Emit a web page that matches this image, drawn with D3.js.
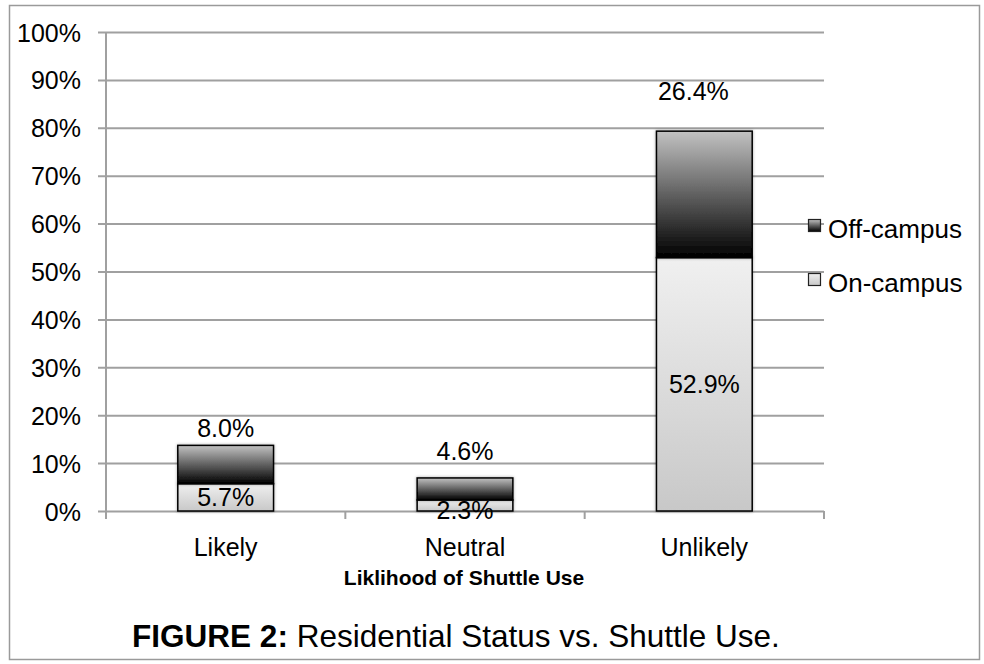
<!DOCTYPE html>
<html>
<head>
<meta charset="utf-8">
<script src="https://cdn.jsdelivr.net/npm/d3@7"></script>
<style>
  html, body { margin: 0; padding: 0; background: #fff; }
  svg { display: block; font-family: "Liberation Sans", Arial, Helvetica, sans-serif; }
</style>
</head>
<body>
<svg id="chart" width="984" height="664"></svg>
<script>
// ---- data ----
const categories = ["Likely", "Neutral", "Unlikely"];
const onCampus = [5.7, 2.3, 52.9];
const offCampus = [8.0, 4.6, 26.4];
const seriesNames = ["Off-campus", "On-campus"];
const yTickValues = [0, 10, 20, 30, 40, 50, 60, 70, 80, 90, 100];
const xAxisTitle = "Liklihood of Shuttle Use";
const figureLabel = "FIGURE 2:";
const figureText = " Residential Status vs. Shuttle Use.";
// manually placed labels (value units, as in the picture)
const offLabelAt = [17.3, 12.5, 87.7];
const offLabelDx = [0, 0, -11];
const onLabelAt = [2.85, 0.3, 26.45];

// ---- layout ----
const svg = d3.select("#chart");
const plot = { left: 106, right: 824, top: 32, bottom: 511 };
const gridColor = "#a0a0a0";
const font = 25;

const x = d3.scaleBand().domain(categories).range([plot.left, plot.right]).padding(0);
const y = d3.scaleLinear().domain([0, 100]).range([plot.bottom, plot.top]);
const barW = x.bandwidth() * 0.4;

// gradients
const defs = svg.append("defs");
const gOff = defs.append("linearGradient").attr("id", "gOff").attr("x1", 0).attr("y1", 0).attr("x2", 0).attr("y2", 1);
gOff.append("stop").attr("offset", "0%").attr("stop-color", "#c2c2c2");
gOff.append("stop").attr("offset", "100%").attr("stop-color", "#000");
const gOn = defs.append("linearGradient").attr("id", "gOn").attr("x1", 0).attr("y1", 0).attr("x2", 0).attr("y2", 1);
gOn.append("stop").attr("offset", "0%").attr("stop-color", "#f0f0f0");
gOn.append("stop").attr("offset", "100%").attr("stop-color", "#c8c8c8");
const shadow = defs.append("filter").attr("id", "shadow").attr("x", "-20%").attr("y", "-20%").attr("width", "140%").attr("height", "140%");
shadow.append("feDropShadow").attr("dx", 0).attr("dy", 0).attr("stdDeviation", 1.5).attr("flood-color", "#000").attr("flood-opacity", 0.35);

// outer border
svg.append("rect").attr("x", 9.5).attr("y", 5.5).attr("width", 970).attr("height", 654)
  .attr("fill", "#fff").attr("stroke", "#9a9a9a").attr("stroke-width", 1.5);

// gridlines + y tick labels
const yAxis = d3.axisLeft(y).tickValues(yTickValues).tickFormat(d => d + "%")
  .tickSize(-(plot.right - plot.left)).tickSizeOuter(0).tickPadding(25);
const gy = svg.append("g").attr("transform", `translate(${plot.left},0)`).call(yAxis);
gy.select(".domain").remove();
gy.selectAll(".tick line").attr("x1", -8).attr("stroke", gridColor).attr("stroke-width", 2);
gy.selectAll(".tick text").attr("font-size", font).attr("fill", "#000")
  .attr("font-family", '"Liberation Sans", Arial, sans-serif').attr("dy", "0.36em");

// vertical axis line
svg.append("line").attr("x1", plot.left).attr("x2", plot.left)
  .attr("y1", y(100)).attr("y2", y(0) + 8)
  .attr("stroke", gridColor).attr("stroke-width", 2);

// x axis tick marks at category boundaries
const bounds = categories.map(c => x(c)).concat([plot.right]);
svg.append("g").selectAll("line").data(bounds).join("line")
  .attr("x1", d => d).attr("x2", d => d)
  .attr("y1", y(0)).attr("y2", y(0) + 8)
  .attr("stroke", gridColor).attr("stroke-width", 2);

// category labels
svg.append("g").selectAll("text").data(categories).join("text")
  .attr("x", d => x(d) + x.bandwidth() / 2).attr("y", 556)
  .attr("text-anchor", "middle").attr("font-size", font).text(d => d);

// stacked bars
const rows = categories.map((c, i) => ({ cat: c, on: onCampus[i], off: offCampus[i] }));
const stack = d3.stack().keys(["on", "off"])(rows);
const fills = { on: "url(#gOn)", off: "url(#gOff)" };

const barsG = svg.append("g");
stack.forEach(layer => {
  barsG.selectAll(null).data(layer).join("rect")
    .attr("x", d => x(d.data.cat) + (x.bandwidth() - barW) / 2)
    .attr("y", d => y(d[1]))
    .attr("width", barW)
    .attr("height", d => y(d[0]) - y(d[1]))
    .attr("fill", fills[layer.key])
    .attr("stroke", "#000").attr("stroke-width", 1.5)
    .attr("filter", "url(#shadow)");
});

// on-campus labels
svg.append("g").selectAll("text").data(rows).join("text")
  .attr("x", d => x(d.cat) + x.bandwidth() / 2)
  .attr("y", (d, i) => y(onLabelAt[i]))
  .attr("dy", "0.36em").attr("text-anchor", "middle").attr("font-size", font)
  .text(d => d.on.toFixed(1) + "%");

// off-campus labels
svg.append("g").selectAll("text").data(rows).join("text")
  .attr("x", (d, i) => x(d.cat) + x.bandwidth() / 2 + offLabelDx[i])
  .attr("y", (d, i) => y(offLabelAt[i]))
  .attr("dy", "0.36em").attr("text-anchor", "middle").attr("font-size", font)
  .text(d => d.off.toFixed(1) + "%");

// legend
const legend = svg.append("g");
const legendFills = ["url(#gOff)", "url(#gOn)"];
const legendY = [226, 280];
seriesNames.forEach((name, i) => {
  legend.append("rect").attr("x", 808.5).attr("y", legendY[i] - 6.5).attr("width", 12).attr("height", 12)
    .attr("fill", legendFills[i]).attr("stroke", "#222").attr("stroke-width", 1.2);
  legend.append("text").attr("x", 828).attr("y", legendY[i] + 3).attr("dy", "0.36em")
    .attr("font-size", 26).text(name);
});

// axis title
svg.append("text").attr("x", 464).attr("y", 585).attr("text-anchor", "middle")
  .attr("font-size", 21).attr("font-weight", "bold").text(xAxisTitle);

// figure caption
const cap = svg.append("text").attr("x", 456).attr("y", 647).attr("text-anchor", "middle").attr("font-size", 31.5);
cap.append("tspan").attr("font-weight", "bold").text(figureLabel);
cap.append("tspan").text(figureText);
</script>
</body>
</html>
